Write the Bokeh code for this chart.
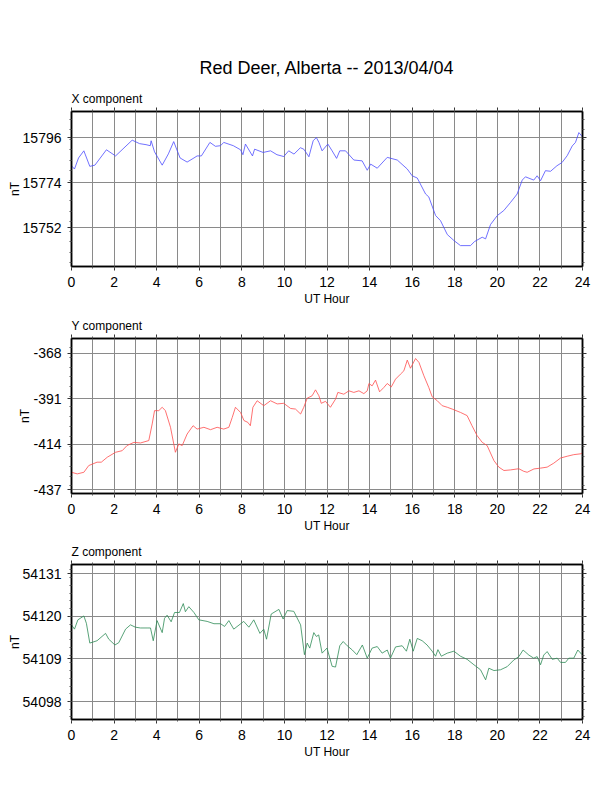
import math
from bokeh.plotting import figure
from bokeh.models import Range1d, FixedTicker, LinearAxis, Title
from bokeh.layouts import column
from bokeh.embed import file_html
from bokeh.resources import INLINE

FONT = "Liberation Sans"

main_title = "Red Deer, Alberta -- 2013/04/04"
hour_ticks = [0, 2, 4, 6, 8, 10, 12, 14, 16, 18, 20, 22, 24]
hour_minor = list(range(0, 25))

# X component (nT)
x_t = [0.00, 0.14, 0.33, 0.58, 0.86, 1.10, 1.64, 2.07, 2.85, 3.20, 3.50, 3.70, 3.74, 3.90,
       4.26, 4.55, 4.80, 5.10, 5.43, 5.75, 5.90, 6.10, 6.50, 6.76, 7.00, 7.15, 7.60, 7.94,
       8.05, 8.17, 8.50, 8.60, 9.00, 9.35, 9.65, 9.97, 10.20, 10.45, 10.75, 10.91, 11.15,
       11.35, 11.50, 11.62, 11.77, 12.04, 12.24, 12.45, 12.60, 12.87, 13.26, 13.65, 13.89,
       14.05, 14.36, 14.83, 15.30, 15.77, 16.00, 16.24, 16.63, 16.78, 17.10, 17.33, 17.65,
       17.96, 18.27, 18.74, 18.93, 19.29, 19.45, 19.68, 20.00, 20.30, 20.62, 20.93, 21.17,
       21.32, 21.71, 21.87, 22.03, 22.26, 22.50, 22.80, 23.04, 23.28, 23.52, 23.67, 23.83, 24.00]
x_v = [15782.2, 15780.6, 15786.0, 15789.5, 15781.9, 15782.5, 15790.0, 15787.0, 15794.7, 15793.0,
       15792.5, 15792.0, 15794.4, 15789.0, 15782.5, 15788.0, 15794.0, 15786.0, 15784.0, 15786.0,
       15787.0, 15787.0, 15793.6, 15791.7, 15792.0, 15793.6, 15792.0, 15790.0, 15787.6, 15792.8,
       15787.0, 15790.3, 15788.7, 15789.5, 15787.6, 15786.7, 15789.5, 15787.9, 15791.0, 15790.3,
       15786.6, 15794.4, 15796.0, 15793.6, 15789.5, 15792.8, 15789.5, 15785.8, 15789.5, 15789.5,
       15785.0, 15784.6, 15780.0, 15783.0, 15781.0, 15786.3, 15785.0, 15780.6, 15777.3, 15776.2,
       15768.4, 15767.0, 15757.9, 15755.4, 15748.6, 15745.7, 15743.2, 15743.2, 15745.2, 15747.3,
       15746.5, 15753.5, 15757.9, 15760.3, 15764.3, 15768.4, 15775.2, 15776.8, 15775.2, 15777.3,
       15774.9, 15779.8, 15779.5, 15782.2, 15783.8, 15787.1, 15791.9, 15793.6, 15798.4, 15796.3]

# Y component (nT)
y_t = [0.00, 0.27, 0.58, 0.81, 1.20, 1.40, 1.68, 2.07, 2.38, 2.61, 2.93, 3.24, 3.63, 3.79,
       3.90, 4.10, 4.26, 4.41, 4.65, 4.88, 5.04, 5.20, 5.43, 5.71, 5.90, 6.22, 6.53, 6.84,
       7.15, 7.39, 7.55, 7.70, 7.94, 8.10, 8.28, 8.40, 8.52, 8.72, 9.03, 9.35, 9.66, 9.97,
       10.29, 10.52, 10.76, 10.91, 11.07, 11.30, 11.46, 11.62, 11.73, 11.93, 12.16, 12.40,
       12.51, 12.79, 13.03, 13.26, 13.50, 13.73, 13.89, 13.97, 14.12, 14.28, 14.47, 14.67,
       14.83, 15.02, 15.22, 15.45, 15.61, 15.77, 15.92, 16.16, 16.32, 16.55, 16.78, 16.94,
       17.18, 17.41, 17.65, 17.88, 18.27, 18.58, 18.81, 19.05, 19.29, 19.52, 19.84, 20.07,
       20.31, 20.62, 21.01, 21.24, 21.40, 21.72, 22.03, 22.34, 22.65, 22.97, 23.28, 23.59,
       23.90, 24.00]
y_v = [-428.1, -428.9, -428.1, -424.7, -423.0, -423.0, -420.5, -418.0, -417.2, -414.6, -413.0,
       -413.3, -412.1, -403.7, -397.0, -397.0, -395.3, -397.0, -405.4, -418.0, -413.8, -414.6,
       -408.8, -404.6, -406.3, -405.4, -406.6, -405.4, -406.3, -405.4, -400.4, -395.3, -397.9,
       -402.0, -402.9, -404.6, -395.3, -392.0, -394.5, -392.0, -393.6, -393.3, -395.9, -396.2,
       -398.7, -395.3, -390.7, -389.5, -386.5, -389.5, -393.3, -392.3, -395.3, -391.2, -387.8,
       -388.7, -387.0, -387.8, -387.0, -388.4, -387.0, -383.3, -384.5, -381.6, -387.5, -385.3,
       -383.3, -385.0, -381.1, -378.6, -376.9, -371.5, -375.6, -370.7, -372.7, -379.4, -385.3,
       -390.0, -392.0, -394.5, -395.3, -396.2, -397.9, -399.5, -404.6, -409.6, -413.0, -414.6,
       -422.2, -425.5, -427.2, -426.9, -426.3, -427.6, -428.1, -426.4, -426.0, -425.5, -423.5,
       -420.9, -420.0, -419.2, -418.8, -418.3]

# Z component (nT)
z_t = [0.00, 0.14, 0.30, 0.58, 0.70, 0.86, 1.20, 1.60, 1.75, 2.04, 2.22, 2.54, 2.77, 3.00,
       3.24, 3.55, 3.71, 3.84, 4.02, 4.26, 4.37, 4.49, 4.68, 4.84, 5.07, 5.25, 5.35, 5.51,
       5.75, 5.98, 6.37, 6.69, 7.00, 7.19, 7.39, 7.62, 8.09, 8.33, 8.56, 8.85, 9.03, 9.16,
       9.38, 9.74, 9.94, 10.13, 10.44, 10.76, 10.94, 11.07, 11.19, 11.38, 11.50, 11.61,
       11.77, 12.00, 12.24, 12.40, 12.60, 12.76, 12.95, 13.19, 13.40, 13.66, 13.89, 14.12,
       14.36, 14.59, 14.83, 14.98, 15.22, 15.53, 15.73, 15.89, 16.05, 16.24, 16.47, 16.70,
       16.94, 17.10, 17.21, 17.37, 17.65, 17.96, 18.27, 18.58, 18.90, 19.21, 19.45, 19.60,
       19.84, 20.15, 20.46, 20.77, 21.01, 21.21, 21.48, 21.71, 21.87, 22.03, 22.18, 22.34,
       22.58, 22.81, 22.97, 23.20, 23.36, 23.59, 23.78, 23.98]
z_v = [54117.8, 54116.7, 54119.1, 54120.1, 54118.2, 54113.1, 54113.7, 54115.6, 54114.1, 54112.6,
       54113.2, 54116.7, 54117.8, 54117.2, 54117.0, 54117.0, 54117.0, 54113.7, 54118.9, 54115.8,
       54119.5, 54120.3, 54118.6, 54121.0, 54121.0, 54123.3, 54121.2, 54122.5, 54121.0, 54119.1,
       54118.7, 54118.1, 54118.1, 54117.4, 54118.9, 54116.7, 54118.7, 54117.2, 54119.1, 54115.6,
       54116.7, 54114.1, 54120.6, 54121.8, 54119.3, 54121.5, 54121.3, 54117.8, 54110.1, 54113.1,
       54111.8, 54115.8, 54114.8, 54115.2, 54110.5, 54111.8, 54107.1, 54106.9, 54112.4, 54113.5,
       54112.4, 54111.3, 54110.1, 54112.6, 54109.2, 54111.8, 54112.2, 54110.5, 54111.3, 54109.2,
       54112.1, 54112.4, 54111.0, 54114.1, 54111.0, 54114.3, 54113.7, 54112.6, 54111.0, 54109.7,
       54111.4, 54109.7, 54110.5, 54111.0, 54109.7, 54108.9, 54107.5, 54106.2, 54103.6, 54106.6,
       54106.0, 54106.2, 54107.0, 54108.7, 54109.6, 54111.3, 54110.0, 54109.2, 54109.6, 54107.5,
       54110.0, 54110.9, 54108.9, 54109.2, 54108.1, 54108.1, 54109.2, 54109.2, 54111.3, 54110.1]

x_ticks = [15752, 15774, 15796]
y_ticks = [-437, -414, -391, -368]
z_ticks = [54098, 54109, 54120, 54131]

GRID = "#8a8a8a"


def style_axis(ax, hide_labels=False):
    ax.axis_line_color = "black"
    ax.axis_line_width = 1.5
    ax.major_tick_in = 0
    ax.major_tick_out = 4
    ax.minor_tick_in = 0
    ax.minor_tick_out = 2
    ax.major_tick_line_color = "#333333"
    ax.minor_tick_line_color = "#555555"
    ax.major_label_text_font = FONT
    ax.major_label_text_font_size = "14px"
    ax.major_label_text_color = "black"
    if hide_labels:
        ax.major_label_text_font_size = "1px"
        ax.major_label_text_color = None
        ax.major_label_standoff = 0


def panel(t, v, color, yticks, minor_step, yr, subtitle, top, title=None):
    fw, fh = 511, 155
    p = figure(width=71 + fw + 20, height=top + fh + 42, title=None,
               x_range=Range1d(0, 24), y_range=Range1d(*yr),
               output_backend="svg", toolbar_location=None,
               min_border_left=71, min_border_right=20,
               min_border_top=top, min_border_bottom=42)
    p.background_fill_color = "white"
    p.border_fill_color = "white"
    p.outline_line_color = "black"
    p.outline_line_width = 1.5

    lo = int(math.ceil(yr[0] / minor_step)) * minor_step
    yminor = []
    m = lo
    while m <= yr[1]:
        yminor.append(m)
        m += minor_step

    xt = FixedTicker(ticks=hour_ticks, minor_ticks=hour_minor)
    yt = FixedTicker(ticks=yticks, minor_ticks=yminor)

    xa = p.xaxis[0]
    xa.ticker = xt
    style_axis(xa)
    xa.major_label_standoff = 6
    xa.axis_label = "UT Hour"
    xa.axis_label_text_font = FONT
    xa.axis_label_text_font_size = "12px"
    xa.axis_label_text_font_style = "normal"
    xa.axis_label_text_color = "black"
    xa.axis_label_standoff = 2

    ya = p.yaxis[0]
    ya.ticker = yt
    style_axis(ya)
    ya.major_label_standoff = 6
    ya.major_label_overrides = {tk: str(tk) for tk in yticks}
    ya.axis_label = "nT"
    ya.axis_label_text_font = FONT
    ya.axis_label_text_font_size = "12px"
    ya.axis_label_text_font_style = "normal"
    ya.axis_label_text_color = "black"
    ya.axis_label_standoff = -2

    top_ax = LinearAxis(ticker=FixedTicker(ticks=hour_ticks, minor_ticks=hour_minor))
    style_axis(top_ax, hide_labels=True)
    p.add_layout(top_ax, "above")
    right_ax = LinearAxis(ticker=FixedTicker(ticks=yticks, minor_ticks=yminor))
    style_axis(right_ax, hide_labels=True)
    p.add_layout(right_ax, "right")

    p.xgrid.ticker = FixedTicker(ticks=hour_minor)
    p.xgrid.grid_line_color = GRID
    p.xgrid.grid_line_width = 1
    p.ygrid.ticker = FixedTicker(ticks=yticks)
    p.ygrid.grid_line_color = GRID
    p.ygrid.grid_line_width = 1

    p.line(t, v, line_color=color, line_width=0.8)

    p.add_layout(Title(text=subtitle, align="left", text_font=FONT, text_font_size="12px",
                       text_font_style="normal", text_color="black", standoff=3, offset=0),
                 "above")
    if title:
        p.add_layout(Title(text=title, align="center", text_font=FONT, text_font_size="18px",
                           text_font_style="normal", text_color="black", standoff=21),
                     "above")
    return p


p1 = panel(x_t, x_v, "#4d4dff", x_ticks, 5, (15733.0, 15808.7), "X component", 111,
           title=main_title)
p2 = panel(y_t, y_v, "#ff4d4d", y_ticks, 5, (-438.8, -360.6), "Y component", 30)
p3 = panel(z_t, z_v, "#2e8b57", z_ticks, 2, (54093.35, 54133.4), "Z component", 29)

layout = column(p1, p2, p3, spacing=0)
open("out.html", "w").write(file_html(layout, INLINE))
